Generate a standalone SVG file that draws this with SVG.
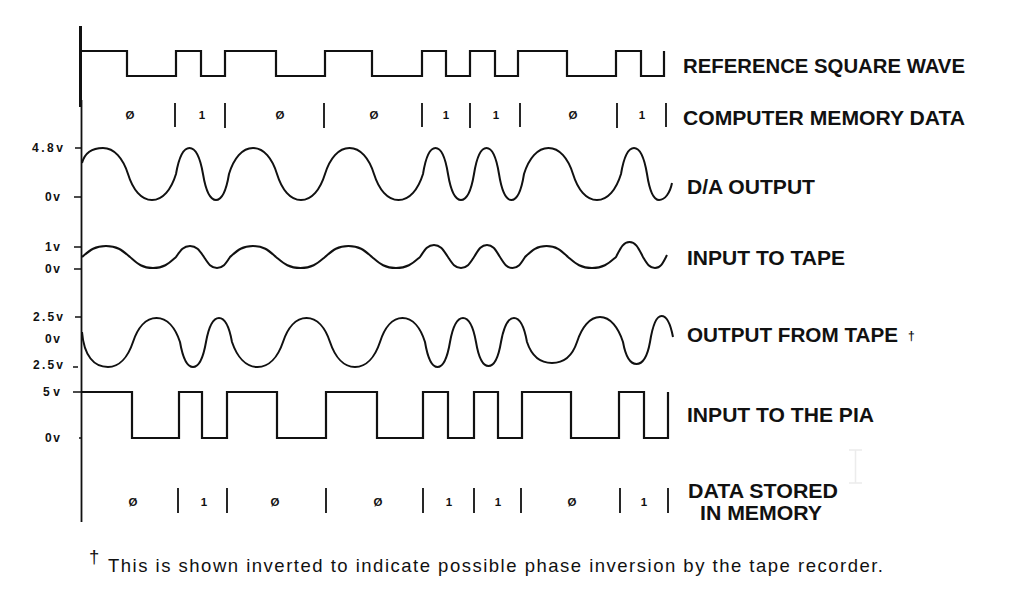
<svg xmlns="http://www.w3.org/2000/svg" width="1020" height="602" viewBox="0 0 1020 602">
<style>
.w{fill:none;stroke:#111;stroke-width:2;stroke-linejoin:round;stroke-linecap:butt}
.sq{fill:none;stroke:#111;stroke-width:2.2;stroke-linejoin:miter}
.tk{stroke:#111;stroke-width:1.5}
.sep{stroke:#111;stroke-width:1.8}
.lbl{font-family:"Liberation Sans",Arial,sans-serif;font-weight:bold;font-size:21px;fill:#111}
.vl{font-family:"Liberation Sans",Arial,sans-serif;font-weight:bold;font-size:12px;fill:#111}
.dg{font-family:"Liberation Sans",Arial,sans-serif;font-weight:bold;font-size:11.5px;fill:#111;text-anchor:middle}
.fn{font-family:"Liberation Sans",Arial,sans-serif;font-size:18.5px;fill:#111}
</style>
<rect width="1020" height="602" fill="#fff"/>

<g id="axis">
<path d="M80.5,26 V107" stroke="#111" stroke-width="3"/>
<path d="M81.5,100 V522" stroke="#111" stroke-width="1.8"/>
<path class="tk" d="M75,148 H81 M74,197 H81 M74,247 H81 M74,269 H81 M75,317 H81 M73,367 H78 M73,392 H81 M79,438 H82"/>
<text class="vl" x="32" y="152" textLength="31" lengthAdjust="spacing">4.8v</text>
<text class="vl" x="45" y="201" textLength="15" lengthAdjust="spacing">0v</text>
<text class="vl" x="45" y="251" textLength="15" lengthAdjust="spacing">1v</text>
<text class="vl" x="45" y="273" textLength="15" lengthAdjust="spacing">0v</text>
<text class="vl" x="33" y="321" textLength="30" lengthAdjust="spacing">2.5v</text>
<text class="vl" x="45" y="343" textLength="15" lengthAdjust="spacing">0v</text>
<text class="vl" x="33" y="369" textLength="30" lengthAdjust="spacing">2.5v</text>
<text class="vl" x="43" y="396" textLength="17" lengthAdjust="spacing">5v</text>
<text class="vl" x="45" y="442" textLength="15" lengthAdjust="spacing">0v</text>
</g>

<g id="reference-square-wave">
<path class="sq" d="M82,51 H127 V76 H176 V51 H201 V76 H225 V51 H276 V76 H325 V51 H372 V76 H422 V51 H446 V76 H470 V51 H495 V76 H518 V51 H567 V76 H616 V51 H641 V76 H664 V51"/>
<text class="lbl" x="683" y="73" textLength="282" lengthAdjust="spacingAndGlyphs">REFERENCE SQUARE WAVE</text>
</g>

<g id="computer-memory-data">
<path class="sep" d="M175,103 V127 M225,103 V128 M324,103 V128 M422,103 V127 M470,103 V128 M520,103 V127 M617,103 V128 M666,103 V127"/>
<text class="dg" x="130" y="119">Ø</text>
<text class="dg" x="202" y="119">1</text>
<text class="dg" x="280" y="119">Ø</text>
<text class="dg" x="374" y="119">Ø</text>
<text class="dg" x="446" y="119">1</text>
<text class="dg" x="496" y="119">1</text>
<text class="dg" x="573" y="119">Ø</text>
<text class="dg" x="642" y="119">1</text>
<text class="lbl" x="683" y="125" textLength="282" lengthAdjust="spacingAndGlyphs">COMPUTER MEMORY DATA</text>
</g>

<g id="da-output">
<path class="w" d="M82,163 C85,152 93,148 103,148 C114.25,148 123,158.4 128,174 C132.8,189.6 141.2,200 152,200 C162.8,200 171.2,189.6 176,174 C178.7,158.4 183.4,148 189.5,148 C195.6,148 200.3,158.4 203,174 C205.6,189.6 210.2,200 216,200 C221.9,200 226.4,189.6 229,174 C233.8,158.4 242.2,148 253,148 C263.8,148 272.2,158.4 277,174 C281.8,189.6 290.2,200 301,200 C311.8,200 320.2,189.6 325,174 C329.9,158.4 338.5,148 349.5,148 C360.5,148 369.1,158.4 374,174 C378.9,189.6 387.5,200 398.5,200 C409.5,200 418.1,189.6 423,174 C425.5,158.4 429.9,148 435.5,148 C441.1,148 445.5,158.4 448,174 C450.6,189.6 455.2,200 461,200 C466.9,200 471.4,189.6 474,174 C476.5,158.4 480.9,148 486.5,148 C492.1,148 496.5,158.4 499,174 C501.5,189.6 505.9,200 511.5,200 C517.1,200 521.5,189.6 524,174 C528.9,158.4 537.5,148 548.5,148 C559.5,148 568.1,158.4 573,174 C577.8,189.6 586.2,200 597,200 C607.8,200 616.2,189.6 621,174 C623.6,158.4 628.2,148 634,148 C639.9,148 644.4,158.4 647,174 C649.4,189.6 653.6,200 659,200 C665,200 670,193 672,183"/>
<text class="lbl" x="687" y="194" textLength="128" lengthAdjust="spacingAndGlyphs">D/A OUTPUT</text>
</g>

<g id="input-to-tape">
<path class="w" d="M82,257 C89.2,251 94,246 106,246 C118,246 122.8,251 130,257 C136.9,263 141.5,268 153,268 C164.5,268 169.1,263 176,257 C180.2,251 183,246 190,246 C197,246 199.8,251 204,257 C207.9,263 210.5,268 217,268 C223.5,268 226.1,263 230,257 C236.9,251 241.5,246 253,246 C264.5,246 269.1,251 276,257 C283.35,263 288.25,268 300.5,268 C312.75,268 317.65,263 325,257 C332.05,251 336.75,246 348.5,246 C360.25,246 364.95,251 372,257 C379.2,263 384,268 396,268 C408,268 412.8,263 420,257 C424.2,251 427,245 434,245 C441,245 443.8,251 448,257 C451.9,263 454.5,268 461,268 C467.5,268 470.1,263 474,257 C477.9,251 480.5,245 487,245 C493.5,245 496.1,251 500,257 C503.75,263 506.25,268 512.5,268 C518.75,268 521.25,263 525,257 C531.45,251 535.75,246 546.5,246 C557.25,246 561.55,251 568,257 C575.2,263 580,268 592,268 C604,268 608.8,263 616,257 C620.05,249.3 622.75,242 629.5,242 C636.25,242 638.95,249.3 643,257 C646.6,263 649,268 655,268 C661,268 663.4,262 667,255"/>
<text class="lbl" x="687" y="265" textLength="158" lengthAdjust="spacingAndGlyphs">INPUT TO TAPE</text>
</g>

<g id="output-from-tape">
<path class="w" d="M82,332 C84,356 94,367 108,367 C119.25,367 128,357 133,342 C137.7,327.6 145.9,318 156.5,318 C167.1,318 175.3,327.6 180,342 C182.6,357 187.15,367 193,367 C198.85,367 203.4,357 206,342 C208.6,327.6 213.15,318 219,318 C224.85,318 229.4,327.6 232,342 C237.1,357 246,367 257.5,367 C269,367 277.9,357 283,342 C287.7,327.6 295.9,318 306.5,318 C317.1,318 325.3,327.6 330,342 C335,357 343.75,367 355,367 C366.25,367 375,357 380,342 C384.5,327.6 392.4,318 402.5,318 C412.6,318 420.5,327.6 425,342 C427.5,357 431.9,367 437.5,367 C443.1,367 447.5,357 450,342 C452.6,327.6 457.15,318 463,318 C468.85,318 473.4,327.6 476,342 C478.5,357 482.9,366 488.5,366 C494.1,366 498.5,357 501,342 C503.6,327.6 508.15,318 514,318 C519.85,318 524.4,327.6 527,342 C532,357 540.75,363 552,363 C563.25,363 572,357 577,342 C581.6,327.6 589.65,317 600,317 C610.35,317 618.4,327.6 623,342 C625.7,357 630.6,364 636.5,364 C642.6,364 647.3,357 650,342 C652.3,327.6 656.3,316 661.5,316 C666.7,316 670.7,325 673,337"/>
<text class="lbl" x="687" y="342" textLength="211" lengthAdjust="spacingAndGlyphs">OUTPUT FROM TAPE</text>
<text class="vl" x="908" y="340" font-size="13">†</text>
</g>

<g id="input-to-the-pia">
<path class="sq" stroke-width="2.6" d="M82,392 H132 V438 H179 V392 H202 V438 H227 V392 H277 V438 H326 V392 H377 V438 H423 V392 H448 V438 H474 V392 H498 V438 H522 V392 H571 V438 H619 V392 H644 V438 H668 V392"/>
<text class="lbl" x="687" y="422" textLength="187" lengthAdjust="spacingAndGlyphs">INPUT TO THE PIA</text>
</g>

<g id="data-stored-in-memory">
<path class="sep" d="M178,488 V513 M227,488 V513 M326,488 V513 M423,488 V513 M474,488 V513 M521,488 V513 M620,488 V513 M668,488 V513"/>
<text class="dg" x="133" y="506">Ø</text>
<text class="dg" x="204" y="506">1</text>
<text class="dg" x="275" y="506">Ø</text>
<text class="dg" x="378" y="506">Ø</text>
<text class="dg" x="449" y="506">1</text>
<text class="dg" x="498" y="506">1</text>
<text class="dg" x="572" y="506">Ø</text>
<text class="dg" x="644" y="506">1</text>
<text class="lbl" x="688" y="498" textLength="150" lengthAdjust="spacingAndGlyphs">DATA STORED</text>
<text class="lbl" x="700" y="520" textLength="122" lengthAdjust="spacingAndGlyphs">IN MEMORY</text>
</g>

<g id="scan-mark">
<path d="M849,450 H862 M855.5,450 V483 M849,483 H862" stroke="#ececec" stroke-width="1.5" fill="none"/>
</g>

<g id="footnote">
<text class="fn" x="89" y="563" font-size="12">†</text>
<text class="fn" x="108" y="572" textLength="775" lengthAdjust="spacing">This is shown inverted to indicate possible phase inversion by the tape recorder.</text>
</g>
</svg>
